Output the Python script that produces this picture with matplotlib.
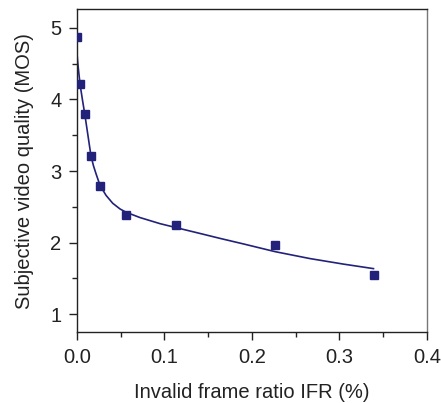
import matplotlib.pyplot as plt
from matplotlib.ticker import MultipleLocator

# measured points (IFR %, MOS)
ifr = [0.0, 0.0038, 0.0095, 0.016, 0.0266, 0.0563, 0.1135, 0.2266, 0.3394]
mos = [4.87, 4.21, 3.80, 3.21, 2.79, 2.38, 2.25, 1.96, 1.55]

# fitted curve
fit_x = [0.0, 0.0011, 0.0023, 0.0038, 0.0066, 0.0095, 0.0129, 0.0163, 0.0192,
         0.0221, 0.0266, 0.0335, 0.0411, 0.0495, 0.0563, 0.0723, 0.0952,
         0.1181, 0.1409, 0.1638, 0.1904, 0.2266, 0.2666, 0.3047, 0.339]
fit_y = [4.69, 4.52, 4.38, 4.21, 3.99, 3.77, 3.49, 3.21, 3.07,
         2.96, 2.80, 2.66, 2.55, 2.47, 2.425, 2.35, 2.265,
         2.196, 2.128, 2.059, 1.982, 1.874, 1.777, 1.70, 1.637]

col = '#22227a'
ink = '#222222'

plt.rcParams['font.family'] = ['Liberation Sans', 'DejaVu Sans']

fig = plt.figure(figsize=(4.41, 4.03), dpi=100)
ax = fig.add_axes([0.174, 0.175, 0.794, 0.802])

ax.plot(fit_x, fit_y, color=col, lw=1.2, zorder=2)
ax.plot(ifr, mos, ls='none', marker='s', ms=6, color=col, zorder=3)

ax.set_xlim(0, 0.4)
ax.set_ylim(0.745, 5.26)
ax.xaxis.set_major_locator(MultipleLocator(0.1))
ax.xaxis.set_minor_locator(MultipleLocator(0.05))
ax.yaxis.set_major_locator(MultipleLocator(1))
ax.yaxis.set_minor_locator(MultipleLocator(0.5))
ax.xaxis.set_major_formatter(plt.FuncFormatter(lambda v, p: f"{v:.1f}"))

ax.tick_params(which='major', direction='out', length=6, width=1, color=ink,
               labelsize=14.5, labelcolor=ink, pad=5)
ax.tick_params(which='minor', direction='out', length=3.5, width=1, color=ink)
for s in ax.spines.values():
    s.set_color(ink)
    s.set_linewidth(1)
ax.spines['right'].set_color('#777777')

ax.set_xlabel('Invalid frame ratio IFR (%)', fontsize=14.5, color=ink, labelpad=12)
ax.set_ylabel('Subjective video quality (MOS)', fontsize=14.5, color=ink, labelpad=12)

fig.savefig('out.png', dpi=100)
